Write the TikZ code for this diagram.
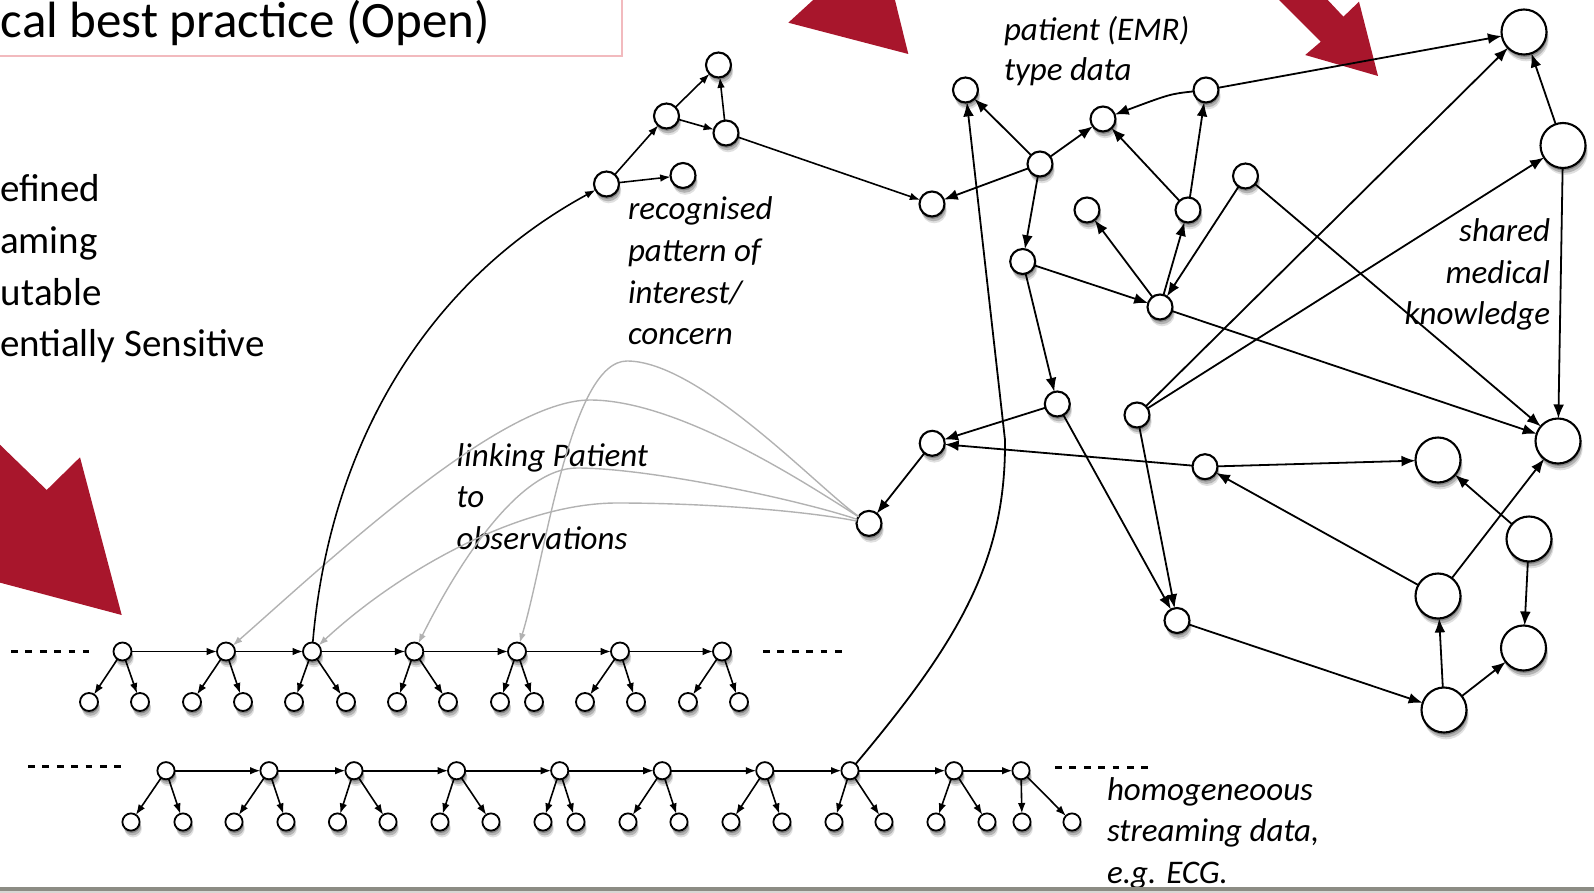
\documentclass[tikz,border=0pt]{standalone}
\usepackage{fontspec}
\setmainfont{Carlito}
\usetikzlibrary{arrows.meta,shadows}
\definecolor{redarrow}{RGB}{168,22,44}
\definecolor{pinkbox}{RGB}{242,186,190}
\definecolor{linegray}{RGB}{178,178,178}
\definecolor{bargray}{RGB}{140,140,132}
\begin{document}
\begin{tikzpicture}[x=0.5pt,y=-0.5pt,
  every node/.style={inner sep=0pt,outer sep=0pt},
  shad/.style={drop shadow={shadow xshift=0.4pt,shadow yshift=-1.2pt,opacity=0.25,fill=black},
               drop shadow={shadow xshift=0.8pt,shadow yshift=-2.4pt,opacity=0.2,fill=black},
               drop shadow={shadow xshift=1.1pt,shadow yshift=-3.4pt,opacity=0.12,fill=black}},
  sdot/.style={circle,draw=black,line width=0.9pt,fill=white,minimum size=9pt,shad},
  mdot/.style={circle,draw=black,line width=1.05pt,fill=white,minimum size=12.5pt,shad},
  bdot/.style={circle,draw=black,line width=1.05pt,fill=white,minimum size=22.5pt,shad},
  big/.style={-{Latex[length=7pt,width=5.4pt]},line width=0.9pt},
  sm/.style={-{Latex[length=5.2pt,width=3.8pt]},line width=0.8pt},
  gr/.style={-{Latex[length=4.8pt,width=3.4pt]},draw=linegray,line width=0.7pt},
  lab/.style={font=\itshape\fontsize{16.5}{20}\selectfont},
  bul/.style={font=\fontsize{19.5}{24}\selectfont},
  dots/.style={line width=1.4pt,dash pattern=on 3.4pt off 3.8pt}
]
\useasboundingbox (0,0) rectangle (1594,893);
\clip (0,0) rectangle (1594,893);

% red arrows
\fill[redarrow] (-40,406) -- (46.7,490) -- (80,457.3) -- (121.7,615) -- (-40,572) -- cycle;
\fill[redarrow] (835,-20) -- (788.3,22.7) -- (908.3,54) -- (890,-20) -- cycle;
\fill[redarrow] (1259,-20) -- (1320.8,41.7) -- (1305.2,55) -- (1378,76) -- (1359,1.7) -- (1343.4,16.7) -- (1309,-20) -- cycle;

% title box
\draw[pinkbox,line width=0.8pt] (-10,-10) rectangle (622,56);
\node[anchor=base west,font=\fontsize{25.5}{30}\selectfont] (title) at (1,38) {cal best practice (Open)};

% bullet text
\node[bul,anchor=base west] (b1t) at (0,202) {efined};
\node[bul,anchor=base west] (b2t) at (0,253.5) {aming};
\node[bul,anchor=base west] (b3t) at (1,305) {utable};
\node[bul,anchor=base west] (b4t) at (0,356) {entially Sensitive};

% labels
\node[lab,anchor=base west] (r1) at (628,220) {recognised};
\node[lab,anchor=base west] (r2) at (628,261.5) {pattern of};
\node[lab,anchor=base west] (r3) at (628,303) {interest/};
\node[lab,anchor=base west] (r4) at (628,344.5) {concern};
\node[lab,anchor=base west] (p1) at (1004,40.5) {patient (EMR)};
\node[lab,anchor=base west] (p2) at (1004,81) {type data};
\node[lab,anchor=base east] (s1) at (1550,242) {shared};
\node[lab,anchor=base east] (s2) at (1550,283) {medical};
\node[lab,anchor=base east] (s3) at (1550,324) {knowledge};
\node[lab,anchor=base west] (k1) at (456.7,466.5) {linking Patient};
\node[lab,anchor=base west] (k2) at (456.7,507.5) {to};
\node[lab,anchor=base west] (k3) at (456.7,549) {observations};
\node[lab,anchor=base west] (h1) at (1107,800) {homogeneoous};
\node[lab,anchor=base west] (h2) at (1107,841.5) {streaming data,};
\node[lab,anchor=base west] (h3) at (1107,883) {e.g. ECG.};

% bottom bar
\fill[bargray] (0,887) rectangle (1594,890.5);
\fill[bargray!35] (0,890.5) rectangle (1594,893);

% dashes
\draw[dots] (11,651.5) -- (89,651.5);
\draw[dots] (763,651.5) -- (846,651.5);
\draw[dots] (28,766.5) -- (126,766.5);
\draw[dots] (1055,767.5) -- (1153,767.5);

% stream row 1
\foreach \i/\px/\lx/\rx in {1/122.5/89/140,2/226/192/243,3/312/294/346,4/414.3/397/448,5/517/500/534,6/620/585/636,7/722/688/739}{
  \node[sdot] (a\i) at (\px,651.5) {};
  \node[sdot] (a\i-l) at (\lx,702) {};
  \node[sdot] (a\i-r) at (\rx,702) {};
}
% stream row 2
\foreach \i/\px/\lx/\rx in {1/166/131/183,2/269/234/286,3/354/337.5/388,4/456.6/440/491,5/559.7/543/576,6/662.2/628/679,7/764.8/731/782,8/850/834/884,9/954/936/987,10/1021/1022/1072}{
  \node[sdot,minimum size=8.6pt] (b\i) at (\px,770.7) {};
  \node[sdot,minimum size=8.6pt] (b\i-l) at (\lx,822) {};
  \node[sdot,minimum size=8.6pt] (b\i-r) at (\rx,822) {};
}

% pattern graph nodes
\node[mdot] (n1) at (606.5,184) {};
\node[mdot] (n2) at (683,175.5) {};
\node[mdot] (n3) at (666.5,116) {};
\node[mdot] (n4) at (718.5,65) {};
\node[mdot] (n5) at (726,133) {};
\node[mdot] (n6) at (932,204) {};
% patient graph nodes
\node[mdot] (n7) at (965.5,90) {};
\node[mdot] (n8) at (1040,164) {};
\node[mdot] (n9) at (1103,119) {};
\node[mdot] (n10) at (1206,90) {};
\node[mdot] (n11) at (1087,210) {};
\node[mdot] (n12) at (1188,210) {};
\node[mdot] (n13) at (1245.5,176) {};
\node[mdot] (n14) at (1022.7,261.5) {};
\node[mdot] (n15) at (1160,307) {};
\node[mdot] (n19) at (1057.3,404) {};
\node[mdot] (n20) at (1137,415) {};
\node[mdot] (n21) at (932.2,443.3) {};
\node[mdot] (obs) at (869,523.4) {};
\node[mdot] (n22) at (1205,466.7) {};
\node[mdot] (n28) at (1177,620.5) {};
% knowledge nodes
\node[bdot] (n16) at (1524,32) {};
\node[bdot] (n17) at (1563,145.5) {};
\node[bdot] (n18) at (1558,441) {};
\node[bdot] (n23) at (1438,460) {};
\node[bdot] (n24) at (1529,539) {};
\node[bdot] (n25) at (1438,596) {};
\node[bdot] (n26) at (1523.5,648) {};
\node[bdot] (n27) at (1444,710) {};

% stream edges
\foreach \i in {1,...,7}{\draw[sm] (a\i) -- (a\i-l); \draw[sm] (a\i) -- (a\i-r);}
\foreach \i/\j in {1/2,2/3,3/4,4/5,5/6,6/7} \draw[sm] (a\i) -- (a\j);
\foreach \i in {1,...,10}{\draw[sm] (b\i) -- (b\i-l); \draw[sm] (b\i) -- (b\i-r);}
\foreach \i/\j in {1/2,2/3,3/4,4/5,5/6,6/7,7/8,8/9,9/10} \draw[sm] (b\i) -- (b\j);

% gray links
\draw[gr] (obs) .. controls (810,486) and (680,400) .. (590,400) .. controls (500,400) and (330,560) .. (a2);
\draw[gr] (obs) .. controls (800,510) and (700,503) .. (617,503) .. controls (520,503) and (400,570) .. (a3);
\draw[gr] (obs) .. controls (800,500) and (650,468) .. (577,468) .. controls (520,468) and (460,560) .. (a4);
\draw[gr] (obs) .. controls (820,490) and (700,361) .. (627,361) .. controls (570,361) and (545,560) .. (a5);

% long curves
\draw[sm] (a3) .. controls (330,440) and (430,280) .. (n1);
\draw[big] (b8) .. controls (960,640) and (1006,560) .. (1005,440) -- (n7);

% pattern edges
\draw[sm] (n1) -- (n3);
\draw[sm] (n1) -- (n2);
\draw[sm] (n3) -- (n4);
\draw[sm] (n3) -- (n5);
\draw[sm] (n5) -- (n4);
\draw[sm] (n5) -- (n6);

% patient edges
\draw[big] (n8) -- (n7);
\draw[big] (n8) -- (n6);
\draw[big] (n8) -- (n9);
\draw[big] (n8) -- (n14);
\draw[big] (n10) .. controls (1170,94) .. (n9);
\draw[big] (n10) -- (n16);
\draw[big] (n12) -- (n10);
\draw[big] (n12) -- (n9);
\draw[big] (n15) -- (n12);
\draw[big] (n15) -- (n11);
\draw[big] (n13) -- (n15);
\draw[big] (n14) -- (n15);
\draw[big] (n13) -- (n18);
\draw[big] (n15) -- (n18);
\draw[big] (n17) -- (n16);
\draw[big] (n17) -- (n18);
\draw[big] (n20) -- (n16);
\draw[big] (n20) -- (n17);
\draw[big] (n14) -- (n19);
\draw[big] (n19) -- (n21);
\draw[big] (n19) -- (n28);
\draw[big] (n20) -- (n28);
\draw[big] (n22) -- (n21);
\draw[big] (n22) -- (n23);
\draw[big] (n25) -- (n22);
\draw[big] (n21) -- (obs);
\draw[big] (n24) -- (n23);
\draw[big] (n25) -- (n18);
\draw[big] (n24) -- (n26);
\draw[big] (n27) -- (n25);
\draw[big] (n27) -- (n26);
\draw[big] (n28) -- (n27);
\end{tikzpicture}
\end{document}
